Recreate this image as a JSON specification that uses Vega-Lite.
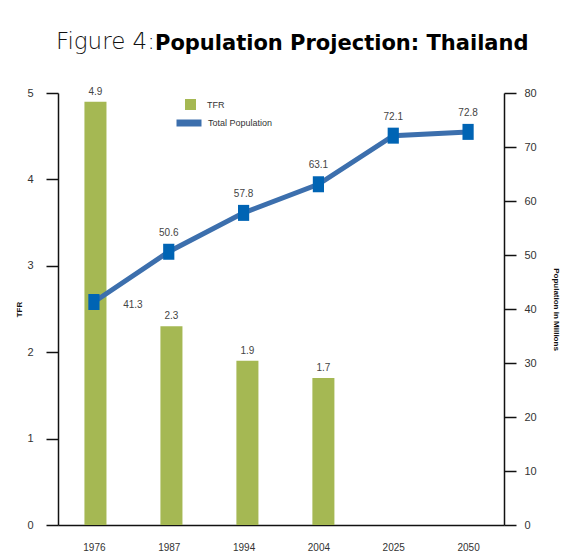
{
  "$schema": "https://vega.github.io/schema/vega-lite/v6.json",
  "width": 446,
  "height": 432,
  "autosize": {"type": "none"},
  "padding": {"left": 58, "top": 93, "right": 58, "bottom": 30},
  "background": "white",
  "config": {"view": {"stroke": null}},
  "title": {
    "text": "Figure 4:\u00a0",
    "subtitle": "Population Projection: Thailand",
    "anchor": "start",
    "frame": "group",
    "dx": 97,
    "offset": 33,
    "font": "DejaVu Sans",
    "fontSize": 23,
    "fontWeight": 200,
    "color": "#111111",
    "subtitleFont": "DejaVu Sans",
    "subtitleFontSize": 21,
    "subtitleFontWeight": "bold",
    "subtitleColor": "#000000",
    "subtitlePadding": -21,
    "align": "left",
    "encoding": {"align": {"value": "right"}}
  },
  "data": {
    "values": [
      {"year": "1976", "tfr": 4.9, "pop": 41.3},
      {"year": "1987", "tfr": 2.3, "pop": 50.6},
      {"year": "1994", "tfr": 1.9, "pop": 57.8},
      {"year": "2004", "tfr": 1.7, "pop": 63.1},
      {"year": "2025", "tfr": null, "pop": 72.1},
      {"year": "2050", "tfr": null, "pop": 72.8}
    ]
  },
  "layer": [
    {
      "encoding": {
        "x": {
          "field": "year",
          "type": "nominal",
          "scale": {
            "domain": ["1976", "1987", "1994", "2004", "2025", "2050"],
            "paddingInner": 0.71,
            "paddingOuter": 0.29,
            "align": 0.6
          },
          "axis": null
        },
        "y": {
          "field": "tfr",
          "type": "quantitative",
          "scale": {"domain": [0, 5]},
          "axis": {
            "orient": "left",
            "values": [0, 1, 2, 3, 4, 5],
            "grid": false,
            "tickSize": 12,
            "tickWidth": 1.5,
            "tickColor": "#111111",
            "domainColor": "#111111",
            "domainWidth": 1.5,
            "labelPadding": 13,
            "labelFont": "Liberation Sans",
            "labelFontSize": 11,
            "labelColor": "#333333",
            "title": "TFR",
            "titleFont": "Liberation Sans",
            "titleFontSize": 8,
            "titleFontWeight": "bold",
            "titleColor": "#111111",
            "titlePadding": 3
          }
        }
      },
      "layer": [
        {
          "mark": {"type": "bar", "color": "#a5b853"},
          "encoding": {
            "color": {
              "datum": "TFR",
              "type": "nominal",
              "scale": {"range": ["#a5b853"]},
              "legend": {
                "orient": "none",
                "legendX": 127,
                "legendY": 6,
                "title": null,
                "padding": 0,
                "symbolType": "square",
                "symbolSize": 121,
                "symbolStrokeWidth": 0,
                "labelFont": "Liberation Sans",
                "labelFontSize": 9,
                "labelColor": "#333333",
                "labelOffset": 11
              }
            }
          }
        },
        {
          "mark": {
            "type": "text",
            "baseline": "middle",
            "dy": -10,
            "font": "Liberation Sans",
            "fontSize": 10,
            "color": "#444444"
          },
          "encoding": {"text": {"field": "tfr", "type": "quantitative", "format": ".1f"}}
        }
      ]
    },
    {
      "encoding": {
        "x": {
          "field": "year",
          "type": "nominal",
          "scale": {
            "type": "point",
            "domain": ["1976", "1987", "1994", "2004", "2025", "2050"],
            "padding": 0.48
          },
          "axis": {
            "orient": "bottom",
            "ticks": false,
            "tickSize": 0,
            "domainColor": "#111111",
            "domainWidth": 1.5,
            "labelPadding": 17,
            "labelAngle": 0,
            "labelFont": "Liberation Sans",
            "labelFontSize": 10,
            "labelColor": "#333333",
            "title": null
          }
        },
        "y": {
          "field": "pop",
          "type": "quantitative",
          "scale": {"domain": [0, 80]},
          "axis": {
            "orient": "right",
            "values": [0, 10, 20, 30, 40, 50, 60, 70, 80],
            "grid": false,
            "tickSize": 12,
            "tickWidth": 1.5,
            "tickColor": "#111111",
            "domainColor": "#111111",
            "domainWidth": 1.5,
            "labelPadding": 8,
            "labelFont": "Liberation Sans",
            "labelFontSize": 11,
            "labelColor": "#333333",
            "title": "Population in Millions",
            "titleFont": "Liberation Sans",
            "titleFontSize": 8,
            "titleFontWeight": "bold",
            "titleColor": "#111111",
            "titlePadding": 15
          }
        }
      },
      "layer": [
        {
          "mark": {"type": "line", "strokeWidth": 5, "color": "#3c6fad"},
          "encoding": {
            "stroke": {
              "datum": "Total Population",
              "type": "nominal",
              "scale": {"range": ["#3c6fad"]},
              "legend": {
                "orient": "none",
                "legendX": 115,
                "legendY": 14,
                "title": null,
                "padding": 0,
                "symbolType": "stroke",
                "symbolSize": 625,
                "symbolStrokeWidth": 7,
                "labelFont": "Liberation Sans",
                "labelFontSize": 9,
                "labelColor": "#333333",
                "labelOffset": 3,
                "encoding": {"symbols": {"update": {"strokeCap": {"value": "round"}, "stroke": {"value": "#3e84c4"}}}}
              }
            }
          }
        },
        {
          "mark": {
            "type": "point",
            "shape": "M-0.7,-1H0.7V1H-0.7Z",
            "size": 256,
            "filled": true,
            "opacity": 1,
            "strokeWidth": 0,
            "color": "#0064b4"
          }
        },
        {
          "transform": [{"filter": "datum.year != '1976'"}],
          "mark": {
            "type": "text",
            "baseline": "middle",
            "dy": -19,
            "font": "Liberation Sans",
            "fontSize": 10,
            "color": "#444444"
          },
          "encoding": {"text": {"field": "pop", "type": "quantitative", "format": ".1f"}}
        },
        {
          "transform": [{"filter": "datum.year == '1976'"}],
          "mark": {
            "type": "text",
            "baseline": "middle",
            "dx": 39,
            "dy": 3,
            "font": "Liberation Sans",
            "fontSize": 10,
            "color": "#444444"
          },
          "encoding": {"text": {"field": "pop", "type": "quantitative", "format": ".1f"}}
        }
      ]
    }
  ],
  "resolve": {"scale": {"x": "independent", "y": "independent"}}
}
